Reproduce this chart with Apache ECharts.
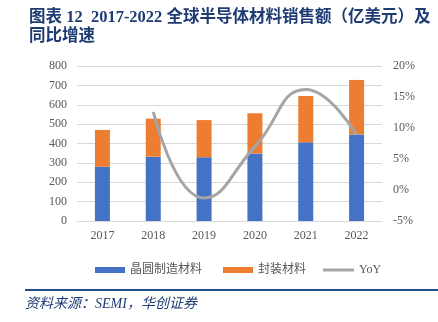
<!DOCTYPE html>
<html>
<head>
<meta charset="utf-8">
<script src="https://cdn.jsdelivr.net/npm/echarts@6/dist/echarts.min.js"></script>
<style>
html,body{margin:0;padding:0;background:#fff;}
#c{width:438px;height:322px;}
</style>
</head>
<body>
<div id="c"></div>
<script>
var years = ['2017','2018','2019','2020','2021','2022'];
var waferMaterials = [280, 332, 329, 349, 406, 447];
var packagingMaterials = [190, 196, 192, 207, 239, 281];
var yoy = [null, 12.6, -1.3, 7.0, 16.2, 8.9];
var leftTicks = {min: 0, max: 800, interval: 100};
var rightTicks = {min: -5, max: 20, interval: 5};

var serif = '"Liberation Serif","Times New Roman","Noto Sans CJK SC",serif';
var navy = '#1f3b73';
var chart = echarts.init(document.getElementById('c'), null, {renderer: 'canvas'});
var legendText = {color: '#595959', fontSize: 12, fontFamily: serif};
chart.setOption({
  animation: false,
  title: {
    text: '图表 12  2017-2022 全球半导体材料销售额（亿美元）及\n同比增速',
    left: 24, top: 3,
    textStyle: {color: navy, fontSize: 16.5, fontWeight: 'bold', lineHeight: 19,
      fontFamily: '"Liberation Serif","Noto Sans CJK SC",serif'}
  },
  grid: {left: 77, right: 56, top: 66, bottom: 101},
  legend: [
    {data: ['晶圆制造材料'], left: 90, top: 259, itemWidth: 30, itemHeight: 6, itemGap: 0, icon: 'rect', textStyle: legendText},
    {data: ['封装材料'], left: 218, top: 259, itemWidth: 30, itemHeight: 6, icon: 'rect', textStyle: legendText},
    {data: [{name: 'YoY', icon: 'rect'}], left: 318, top: 259, itemWidth: 31, itemHeight: 3, textStyle: legendText}
  ],
  xAxis: {
    type: 'category', data: years,
    axisTick: {show: false},
    axisLine: {lineStyle: {color: '#d9d9d9'}},
    axisLabel: {color: '#595959', fontSize: 12, fontFamily: serif, margin: 9}
  },
  yAxis: [
    {type: 'value', min: leftTicks.min, max: leftTicks.max, interval: leftTicks.interval,
      axisLine: {show: false}, axisTick: {show: false},
      splitLine: {lineStyle: {color: '#d9d9d9'}},
      axisLabel: {color: '#595959', fontSize: 12, fontFamily: serif, margin: 10}},
    {type: 'value', min: rightTicks.min, max: rightTicks.max, interval: rightTicks.interval,
      axisLine: {show: false}, axisTick: {show: false}, splitLine: {show: false},
      axisLabel: {color: '#595959', fontSize: 12, fontFamily: serif, margin: 11, formatter: '{value}%'}}
  ],
  series: [
    {name: '晶圆制造材料', type: 'bar', stack: 's', data: waferMaterials, barWidth: 15,
      itemStyle: {color: '#4472c4'}},
    {name: '封装材料', type: 'bar', stack: 's', data: packagingMaterials, barWidth: 15,
      itemStyle: {color: '#ed7d31'}},
    {name: 'YoY', type: 'line', yAxisIndex: 1, data: yoy, smooth: 0.5, showSymbol: false, symbol: 'none',
      lineStyle: {color: '#a5a5a5', width: 3}, itemStyle: {color: '#a5a5a5'}}
  ],
  graphic: [
    {type: 'line', shape: {x1: 25, y1: 290, x2: 438, y2: 290}, style: {stroke: '#1f4e8c', lineWidth: 2}},
    {type: 'text', left: 25, top: 297, style: {text: '资料来源：SEMI，华创证券', fill: navy,
      font: 'italic 14px "Liberation Serif","Noto Sans CJK SC",serif'}}
  ]
});
</script>
</body>
</html>
